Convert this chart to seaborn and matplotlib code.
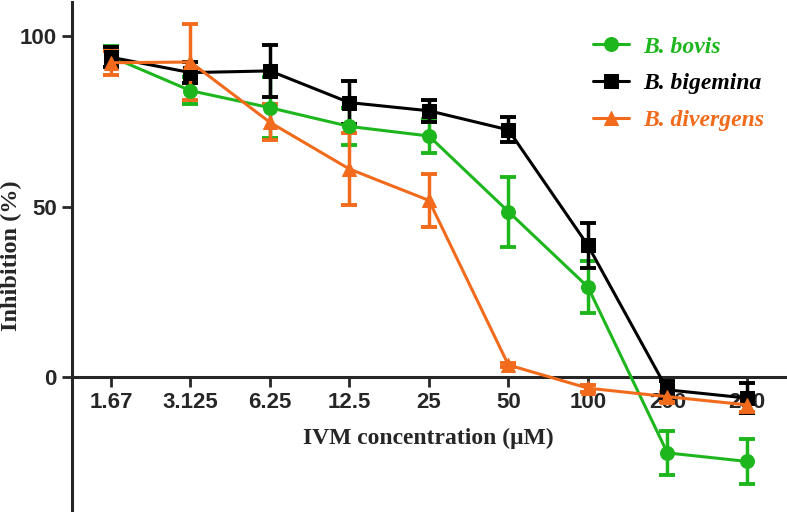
import numpy as np
import pandas as pd
import matplotlib
matplotlib.use("Agg")
import matplotlib.pyplot as plt
import seaborn as sns

# concentrations (categorical x axis)
conc_labels = ["1.67", "3.125", "6.25", "12.5", "25", "50", "100", "200", "250"]

bovis_mean = [94, 84, 79, 73.5, 70.7, 48.5, 26.4, -22.3, -24.8]
bovis_sd = [3, 4, 9, 5.5, 5, 10.3, 7.5, 6.5, 6.5]

bigemina_mean = [93.8, 89.3, 89.8, 80.5, 78.1, 72.5, 38.6, -3.8, -6.2]
bigemina_sd = [3, 3, 7.7, 6.4, 3.3, 3.7, 6.7, 2.5, 4.5]

divergens_mean = [92.2, 92.4, 74.7, 61.0, 51.8, 3.5, -3.3, -5.8, -8.2]
divergens_sd = [3.5, 11.2, 5.3, 10.5, 7.8, 0.5, 1.0, 1.5, 2.0]

species = ["B. bovis", "B. bigemina", "B. divergens"]
colors = {"B. bovis": "#1db61d", "B. bigemina": "#000000", "B. divergens": "#f26a1b"}
markers = {"B. bovis": "o", "B. bigemina": "s", "B. divergens": "^"}

pos = np.arange(len(conc_labels))
df = pd.concat([
    pd.DataFrame({"pos": pos, "mean": m, "sd": s, "species": name})
    for name, m, s in zip(species,
                          [bovis_mean, bigemina_mean, divergens_mean],
                          [bovis_sd, bigemina_sd, divergens_sd])
], ignore_index=True)

sns.set_style("ticks")
plt.rcParams["font.family"] = ["Liberation Sans", "DejaVu Sans"]
serif = ["Liberation Serif", "DejaVu Serif"]

fig = plt.figure(figsize=(7.87, 5.16), dpi=100)
ax = fig.add_axes([0.0915, 0.012, 0.906, 0.984])

for name in species:
    sub = df[df["species"] == name]
    ax.errorbar(sub["pos"], sub["mean"], yerr=sub["sd"], fmt="none",
                ecolor=colors[name], elinewidth=2.5, capsize=6, capthick=2.8,
                zorder=2)
    sns.lineplot(data=sub, x="pos", y="mean", ax=ax, color=colors[name],
                 marker=markers[name], markersize=10, markeredgecolor=colors[name],
                 linewidth=2.2, label=name, zorder=3)

ax.set_xlim(-0.49, 8.48)
ax.set_ylim(-39, 110)
ax.set_xticks(pos)
ax.set_xticklabels(conc_labels)
ax.set_yticks([0, 50, 100])

for s in ["top", "right"]:
    ax.spines[s].set_visible(False)
ax.spines["bottom"].set_position(("data", 0))
ax.spines["left"].set_linewidth(2.2)
ax.spines["bottom"].set_linewidth(2.2)
ax.tick_params(axis="both", direction="out", length=7, width=2, labelsize=16, pad=4)
for lab in ax.get_xticklabels() + ax.get_yticklabels():
    lab.set_fontweight("bold")

ax.set_xlabel("IVM concentration (μM)", fontsize=17, fontweight="bold", family=serif)
ax.xaxis.set_label_coords(0.5, 0.162)
ax.xaxis.label.set_va("top")
ax.set_ylabel("Inhibition (%)", fontsize=17.5, fontweight="bold", family=serif)
ax.yaxis.set_label_coords(-0.07, 0.5)

leg = ax.legend(loc="upper right", bbox_to_anchor=(1.0, 0.975), frameon=False,
                handlelength=1.5, labelspacing=0.65, handletextpad=0.6,
                prop={"family": serif, "weight": "bold", "style": "italic", "size": 17})
for txt, name in zip(leg.get_texts(), species):
    txt.set_color(colors[name])

fig.savefig("out.png", dpi=100)
